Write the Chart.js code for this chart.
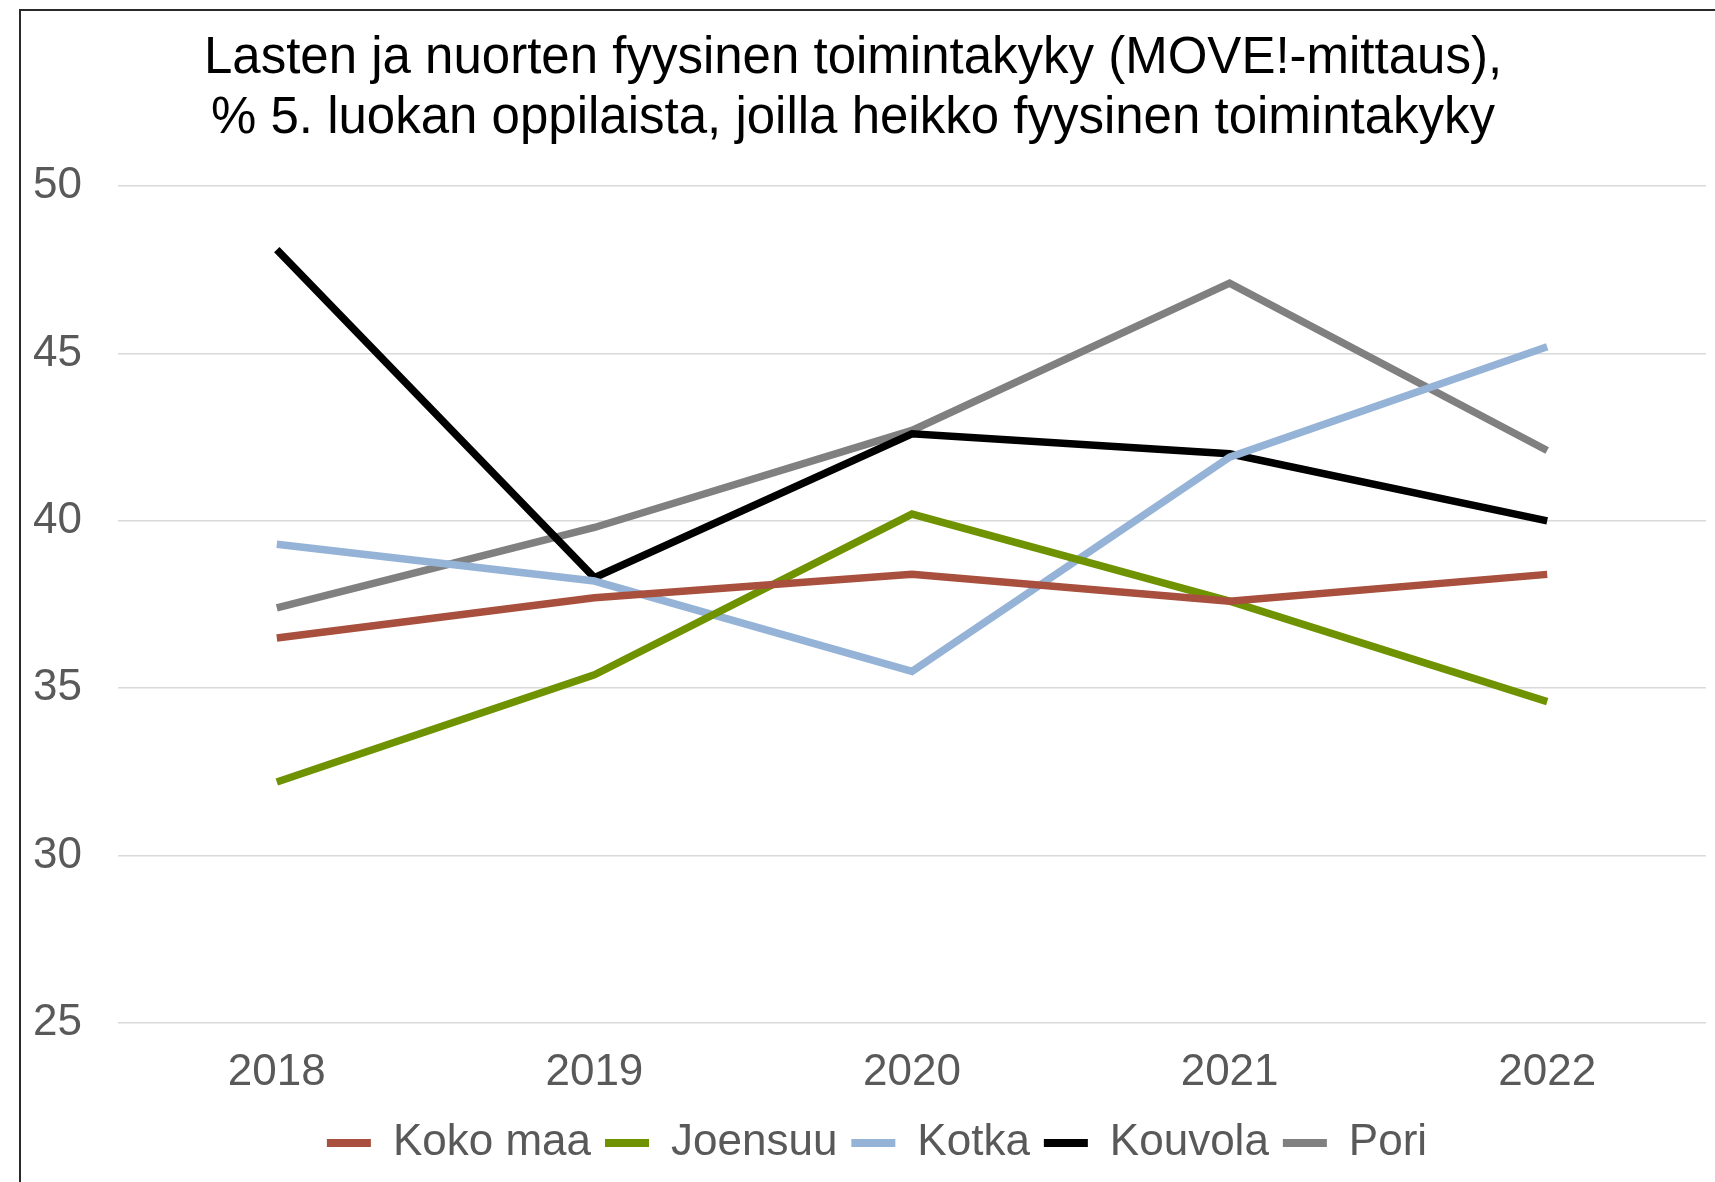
<!DOCTYPE html>
<html>
<head>
<meta charset="utf-8">
<script src="https://cdn.jsdelivr.net/npm/chart.js@4/dist/chart.umd.min.js"></script>
<style>
  html, body { margin: 0; padding: 0; background: #ffffff; }
  #wrap { position: relative; width: 1715px; height: 1182px; overflow: hidden; background: #ffffff; }
  #frame { position: absolute; left: 19px; top: 9px; width: 1720px; height: 1200px;
           border-left: 2px solid #2a2a2a; border-top: 2px solid #2a2a2a; }
  #c { position: absolute; left: 0; top: 0; }
</style>
</head>
<body>
<div id="wrap">
  <div id="frame"></div>
  <canvas id="c" width="1715" height="1182"></canvas>
</div>
<script>
const titleLines = [
  "Lasten ja nuorten fyysinen toimintakyky (MOVE!-mittaus),",
  "% 5. luokan oppilaista, joilla heikko fyysinen toimintakyky"
];
const years = ["2018", "2019", "2020", "2021", "2022"];
const seriesNames = ["Koko maa", "Joensuu", "Kotka", "Kouvola", "Pori"];
const kokoMaa = [36.5, 37.7, 38.4, 37.6, 38.4];
const joensuu = [32.2, 35.4, 40.2, 37.6, 34.6];
const kotka   = [39.3, 38.2, 35.5, 41.9, 45.2];
const kouvola = [48.1, 38.3, 42.6, 42.0, 40.0];
const pori    = [37.4, 39.8, 42.7, 47.1, 42.1];
const seriesColors = ["#A84F3E", "#6F9300", "#95B3D7", "#000000", "#808080"];
const yMin = 25, yMax = 50, yStep = 5;

const FONT = "'Liberation Sans', Arial, sans-serif";
const seriesValues = [kokoMaa, joensuu, kotka, kouvola, pori];

const datasets = seriesNames.map((name, i) => ({
  label: name,
  data: seriesValues[i],
  borderColor: seriesColors[i],
  backgroundColor: seriesColors[i],
  borderWidth: 7.5,
  pointRadius: 0,
  pointHoverRadius: 0,
  tension: 0,
  fill: false
}));

// shift the bottom legend a little to the right, as in the original layout
const legendShift = {
  id: "legendShift",
  afterLayout(chart) {
    const lg = chart.legend;
    if (lg) { lg.left += 24; lg.right += 24; }
  }
};

new Chart(document.getElementById("c"), {
  type: "line",
  data: { labels: years, datasets: datasets },
  plugins: [legendShift],
  options: {
    responsive: false,
    animation: false,
    devicePixelRatio: 1,
    layout: { padding: { left: 0, right: 9, top: 0, bottom: 7 } },
    plugins: {
      tooltip: { enabled: false },
      title: {
        display: true,
        text: titleLines,
        color: "#000000",
        font: { family: FONT, size: 51, weight: "normal", lineHeight: "60px" },
        padding: { top: 29, bottom: 37 }
      },
      legend: {
        display: true,
        position: "bottom",
        labels: {
          color: "#595959",
          font: { family: FONT, size: 44 },
          boxWidth: 44,
          boxHeight: 8,
          padding: 14,
          generateLabels: (chart) =>
            Chart.defaults.plugins.legend.labels.generateLabels(chart).map(l =>
              Object.assign({}, l, { lineWidth: 0, fillStyle: l.strokeStyle }))
        }
      }
    },
    scales: {
      x: {
        offset: true,
        grid: { display: false, drawTicks: false },
        border: { display: false },
        ticks: { color: "#595959", font: { family: FONT, size: 44 }, padding: 23, maxRotation: 0 },
        afterFit: (s) => { s.height = 84; }
      },
      y: {
        min: yMin,
        max: yMax,
        grid: { color: "#d9d9d9", lineWidth: 1.5, drawTicks: false },
        border: { display: false },
        ticks: { stepSize: yStep, color: "#595959", font: { family: FONT, size: 44 }, padding: 36 },
        afterFit: (s) => { s.width = 118; }
      }
    }
  }
});
</script>
</body>
</html>
